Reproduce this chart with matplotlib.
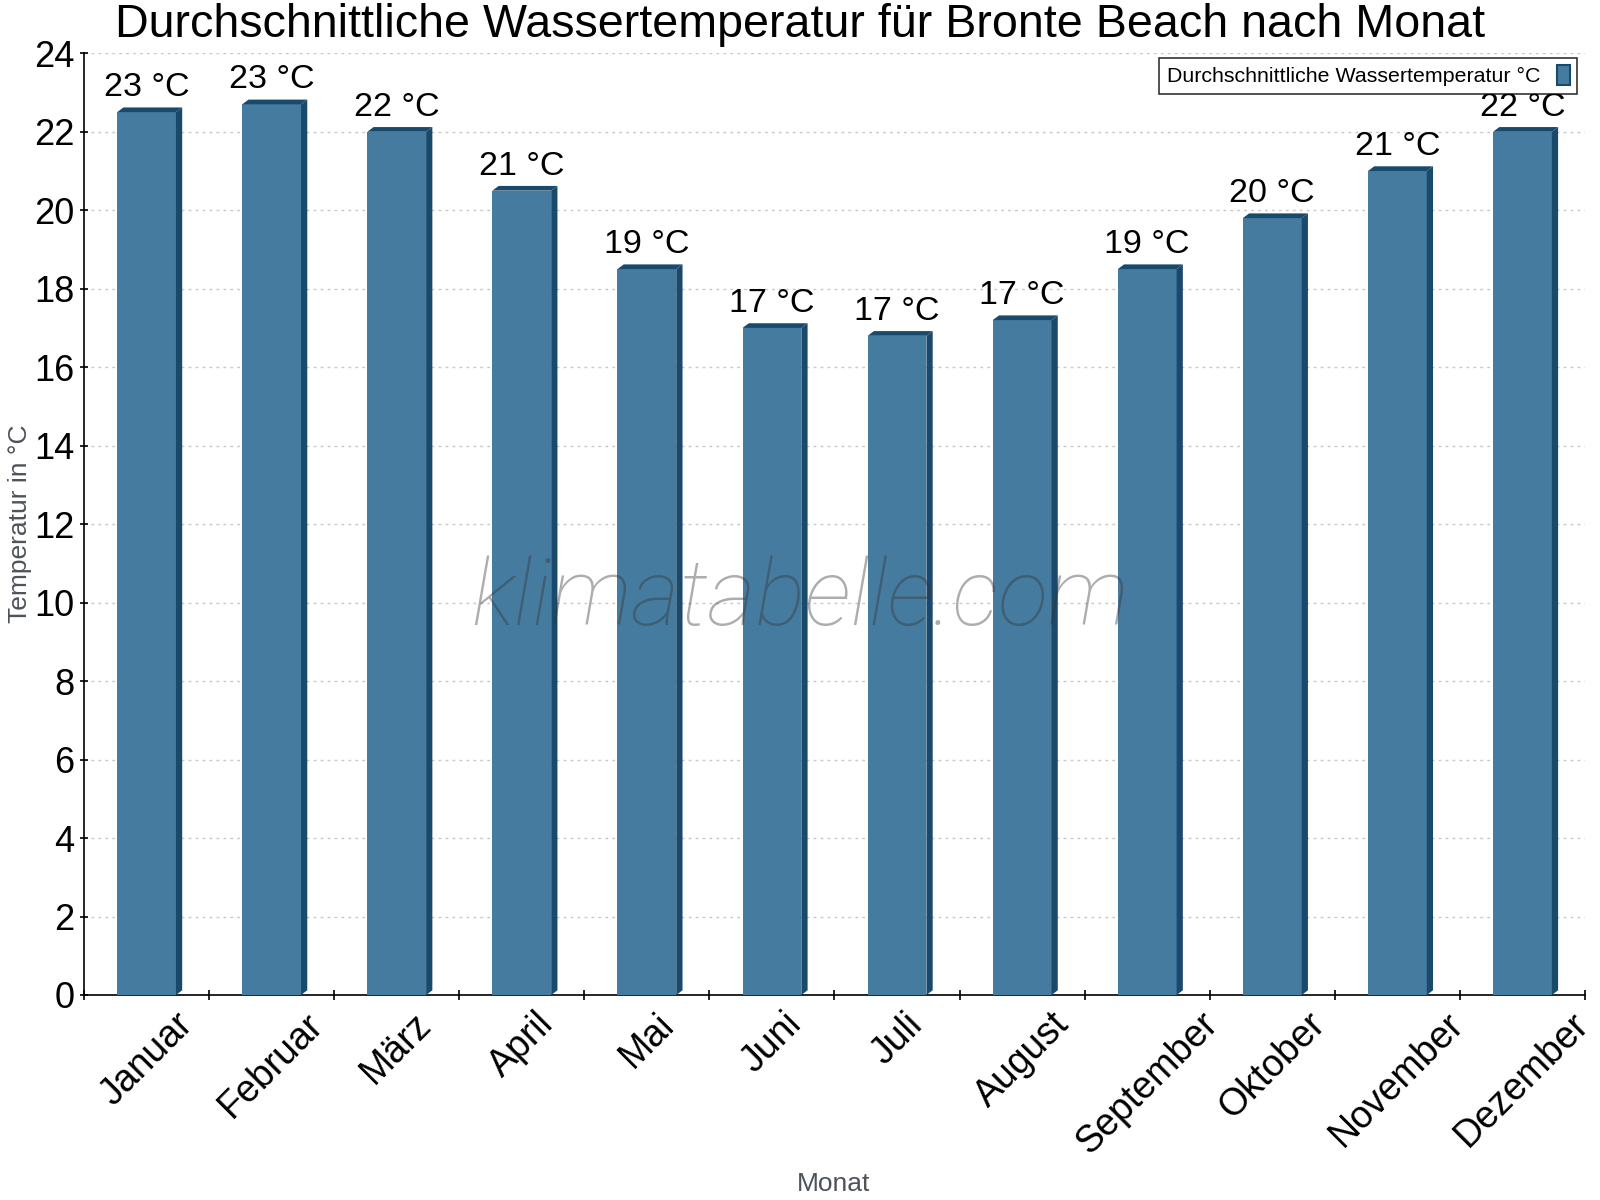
import math
import matplotlib
matplotlib.use("Agg")
import matplotlib.pyplot as plt
from matplotlib.patches import Polygon, Patch

# Data
months = ["Januar", "Februar", "März", "April", "Mai", "Juni",
          "Juli", "August", "September", "Oktober", "November", "Dezember"]
water_temp = [22.5, 22.7, 22.0, 20.5, 18.5, 17.0, 16.8, 17.2, 18.5, 19.8, 21.0, 22.0]
y_ticks = [0, 2, 4, 6, 8, 10, 12, 14, 16, 18, 20, 22, 24]

front_col = "#467ba0"
dark_col = "#1a4a6b"
gray_txt = "#4d5359"

plt.rcParams['font.family'] = ['Liberation Sans', 'DejaVu Sans']

fig = plt.figure(figsize=(16, 12), dpi=100)
ax = fig.add_axes([84 / 1600, 1 - 995 / 1200, (1585 - 84) / 1600, (995 - 53.3) / 1200])

bar_w = 0.47
dx, dy = 0.05, 0.12
x = list(range(len(months)))

# front faces
ax.bar(x, water_temp, width=bar_w, color=front_col, zorder=3)

# top + side faces for the 3d look
for xi, v in zip(x, water_temp):
    xl, xr = xi - bar_w / 2, xi + bar_w / 2
    top = Polygon([(xl, v), (xl + dx, v + dy), (xr + dx, v + dy), (xr, v)],
                  closed=True, facecolor=dark_col, edgecolor='none', zorder=3)
    side = Polygon([(xr, 0), (xr + dx, dy), (xr + dx, v + dy), (xr, v)],
                   closed=True, facecolor=dark_col, edgecolor='none', zorder=3)
    ax.add_patch(top)
    ax.add_patch(side)
    lbl = f"{math.floor(v + 0.5)} °C"
    ax.annotate(lbl, (xi, v + dy), xytext=(0, 3), textcoords='offset points',
                ha='center', va='bottom', fontsize=24.5, color='black', zorder=5)

ax.set_xlim(-0.5, len(months) - 0.5)
ax.set_ylim(0, 24)

# y axis
ax.set_yticks(y_ticks)
ax.tick_params(axis='y', direction='inout', length=6, width=1.2, pad=4, labelsize=26)
ax.grid(axis='y', color='#c8c8c8', linestyle=(0, (2, 3)), linewidth=1, zorder=0)

# x axis: ticks at boundaries, labels at centres
ax.set_xticks([i - 0.5 for i in range(len(months) + 1)])
ax.set_xticklabels([])
ax.tick_params(axis='x', which='major', direction='inout', length=7, width=1.2)
ax.set_xticks(x, minor=True)
ax.set_xticklabels(months, minor=True, rotation=45, ha='center', va='top', fontsize=27)
ax.tick_params(axis='x', which='minor', length=0, pad=8)

for s in ['top', 'right']:
    ax.spines[s].set_visible(False)
for s in ['left', 'bottom']:
    ax.spines[s].set_linewidth(1.2)

# labels / title
fig.text(0.5, 1 - 3 / 1200, "Durchschnittliche Wassertemperatur für Bronte Beach nach Monat",
         ha='center', va='top', fontsize=33.6)
fig.text(20 / 1600, 1 - 524 / 1200, "Temperatur in °C", rotation=90, ha='center', va='center',
         fontsize=19, color=gray_txt)
fig.text(834 / 1600, 1 - 1172 / 1200, "Monat", ha='center', va='top', fontsize=19, color=gray_txt)

# watermark
fig.text(800 / 1600, 1 - 625 / 1200, "klimatabelle.com", ha='center', va='baseline',
         fontsize=67, family='Roboto', weight='light', style='italic',
         color='#333333', alpha=0.4, zorder=10)

# legend
handle = Patch(facecolor=front_col, edgecolor=dark_col, linewidth=1.5)
leg = ax.legend([handle], ["Durchschnittliche Wassertemperatur °C"], loc='upper right',
                markerfirst=False, fontsize=15.4, frameon=True, fancybox=False,
                handlelength=0.6, handleheight=1.0, handletextpad=0.8,
                borderaxespad=0.0, borderpad=0.35, bbox_to_anchor=(0.995, 0.995))
leg.get_frame().set_edgecolor('black')
leg.get_frame().set_linewidth(1.2)
leg.set_zorder(6)

fig.savefig("out.png", dpi=100)
